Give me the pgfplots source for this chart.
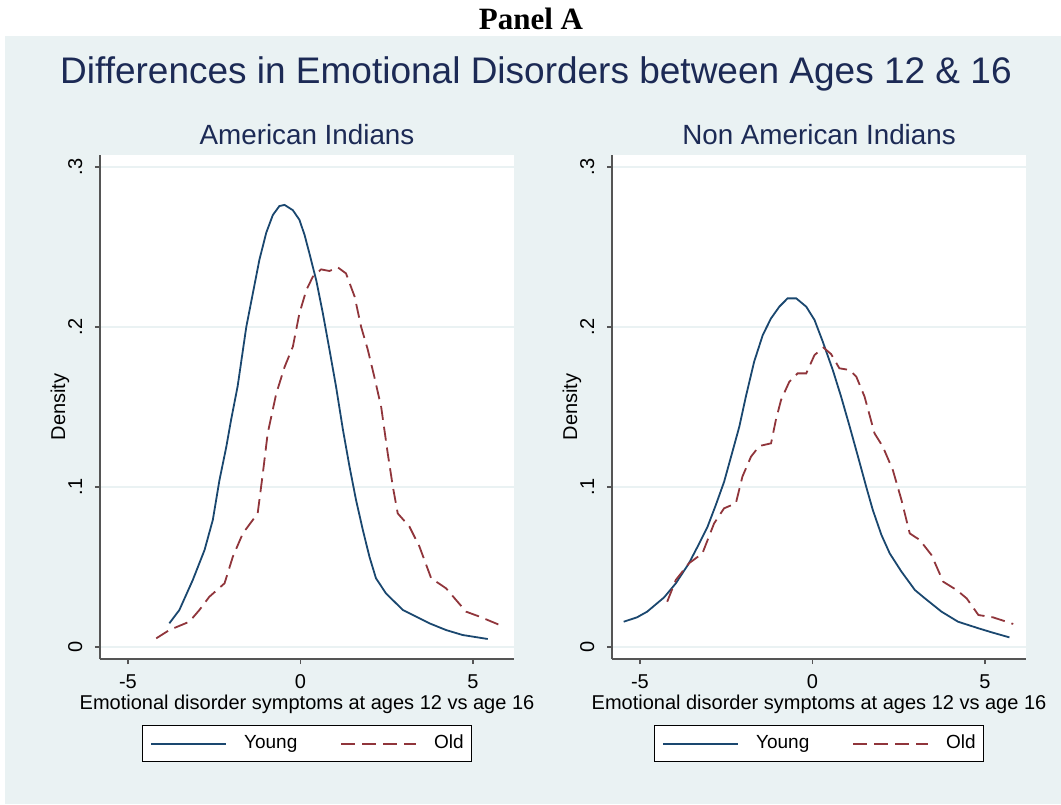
\documentclass[border=0pt]{standalone}
\usepackage{fontspec}
\setmainfont{Liberation Sans}
\newfontfamily\panelfont{Liberation Serif}
\usepackage{pgfplots}
\pgfplotsset{compat=1.18}

\definecolor{bgc}{RGB}{234,242,243}
\definecolor{stnavy}{RGB}{26,71,111}
\definecolor{stmaroon}{RGB}{144,53,59}
\definecolor{ttl}{RGB}{28,42,85}
\definecolor{axc}{RGB}{85,85,85}

% kernel density curves
\pgfplotstableread{
x y
-3.80 0.0148
-3.51 0.0231
-3.12 0.0419
-2.78 0.0606
-2.54 0.0794
-2.35 0.1040
-2.15 0.1250
-2.01 0.1420
-1.82 0.1630
-1.57 0.2000
-1.38 0.2210
-1.19 0.2420
-0.99 0.2590
-0.80 0.2700
-0.61 0.2756
-0.46 0.2763
-0.22 0.2730
-0.03 0.2670
0.12 0.2575
0.26 0.2460
0.46 0.2290
0.65 0.2085
0.84 0.1860
1.03 0.1630
1.23 0.1360
1.42 0.1130
1.61 0.0920
1.81 0.0730
2.00 0.0564
2.19 0.0429
2.48 0.0335
2.97 0.0231
3.74 0.0148
4.22 0.0106
4.70 0.0075
5.43 0.0050
}\aiyoung
\pgfplotstableread{
x y
-4.18 0.0054
-3.80 0.0106
-3.22 0.0158
-2.93 0.0231
-2.64 0.0314
-2.20 0.0398
-1.96 0.0564
-1.67 0.0710
-1.24 0.0835
-1.09 0.1085
-0.95 0.1335
-0.70 0.1585
-0.46 0.1750
-0.22 0.1877
-0.03 0.2085
0.17 0.2230
0.36 0.2315
0.60 0.2360
0.84 0.2350
1.08 0.2373
1.32 0.2335
1.57 0.2190
1.76 0.2000
1.95 0.1860
2.14 0.1690
2.34 0.1500
2.53 0.1210
2.68 0.1000
2.82 0.0835
3.16 0.0752
3.45 0.0627
3.79 0.0429
4.22 0.0367
4.51 0.0294
4.80 0.0221
5.19 0.0190
5.77 0.0138
}\aiold
\pgfplotstableread{
x y
-5.47 0.0158
-5.08 0.0186
-4.79 0.0221
-4.30 0.0310
-3.96 0.0398
-3.58 0.0523
-3.33 0.0627
-3.04 0.0752
-2.80 0.0888
-2.56 0.1033
-2.32 0.1220
-2.12 0.1377
-1.93 0.1565
-1.69 0.1783
-1.44 0.1950
-1.20 0.2054
-0.96 0.2127
-0.72 0.2179
-0.47 0.2179
-0.18 0.2127
0.06 0.2044
0.30 0.1908
0.59 0.1731
0.83 0.1565
1.08 0.1377
1.32 0.1190
1.56 0.1000
1.75 0.0856
2.00 0.0700
2.24 0.0585
2.58 0.0471
2.97 0.0356
3.26 0.0304
3.74 0.0221
4.22 0.0158
4.81 0.0117
5.19 0.0092
5.71 0.0060
}\nayoung
\pgfplotstableread{
x y
-4.21 0.0283
-3.96 0.0419
-3.58 0.0523
-3.19 0.0585
-2.85 0.0773
-2.56 0.0867
-2.22 0.0898
-2.03 0.1065
-1.78 0.1190
-1.54 0.1256
-1.20 0.1273
-1.06 0.1419
-0.91 0.1544
-0.67 0.1658
-0.43 0.1710
-0.18 0.1710
0.06 0.1825
0.32 0.1871
0.54 0.1831
0.78 0.1742
1.08 0.1731
1.27 0.1690
1.51 0.1565
1.80 0.1335
2.04 0.1252
2.33 0.1106
2.58 0.0919
2.82 0.0710
3.11 0.0669
3.45 0.0575
3.79 0.0408
4.18 0.0356
4.47 0.0304
4.81 0.0200
5.24 0.0185
5.82 0.0144
}\naold

\pgfplotsset{stata/.style={
  scale only axis, width=207pt, height=252pt,
  xmin=-5.81, xmax=6.19, ymin=-0.0075, ymax=0.3075,
  axis x line*=bottom, axis y line*=left,
  axis line style={-, draw=axc, line width=0.6pt},
  xtick={-5,0,5}, xticklabels={-5,0,5},
  ytick={0,0.1,0.2,0.3}, yticklabels={0,.1,.2,.3},
  tick align=outside, major tick length=2.5pt,
  tick style={draw=axc, line width=0.6pt},
  ymajorgrids, grid style={draw=bgc, line width=0.7pt},
  axis background/.style={fill=white},
  tick label style={font=\fontsize{10}{12}\selectfont, inner sep=0pt},
  xticklabel style={anchor=base, yshift=-12pt},
  yticklabel style={xshift=-6.5pt, rotate=90, anchor=base},
  title style={font=\fontsize{13.9}{16}\selectfont, text=ttl, anchor=base, at={(0.5,1)}, yshift=-1pt},
  xlabel={Emotional disorder symptoms at ages 12 vs age 16},
  ylabel={Density},
  label style={font=\fontsize{10}{12}\selectfont, inner sep=0pt},
  xlabel style={at={(axis description cs:0.5,0)}, anchor=base, yshift=-25pt},
  ylabel style={at={(axis description cs:-0.0966,0.5)}, anchor=center},
  legend columns=2,
  legend style={at={(0.5,-0.131)}, anchor=north, draw=black, fill=white,
    line width=0.5pt, font=\fontsize{9.5}{11}\selectfont,
    inner xsep=4pt, inner ysep=4.6pt,
    nodes={inner sep=0pt, text height=7pt, text depth=2pt},
    /tikz/every odd column/.append style={column sep=8.5pt},
    /tikz/every even column/.append style={column sep=21.5pt}},
  legend image code/.code={\draw[#1] (0pt,0pt) -- (37.5pt,0pt);},
  every axis plot/.append style={line width=0.9pt},
}}

\begin{document}
\begin{tikzpicture}
\useasboundingbox (0,0) rectangle (530.5pt,402pt);
\fill[white] (0,0) rectangle (530.5pt,402pt);
\fill[bgc] (2.5pt,0) rectangle (530.5pt,384pt);
\node[font=\panelfont\bfseries\fontsize{15.5}{18}\selectfont, anchor=base] at (265.5pt,387pt) {Panel A};
\node[font=\fontsize{18.5}{22}\selectfont, text=ttl, anchor=base] at (268pt,360.4pt) {Differences in Emotional Disorders between Ages 12 \& 16};

\begin{axis}[stata, at={(50pt,72.5pt)}, anchor=south west, title={American Indians}]
\addplot[stnavy, solid] table[x=x, y=y] {\aiyoung};
\addplot[stmaroon, dash pattern=on 7pt off 3.5pt] table[x=x, y=y] {\aiold};
\legend{Young, Old}
\end{axis}

\begin{axis}[stata, at={(306pt,72.5pt)}, anchor=south west, title={Non American Indians}]
\addplot[stnavy, solid] table[x=x, y=y] {\nayoung};
\addplot[stmaroon, dash pattern=on 7pt off 3.5pt] table[x=x, y=y] {\naold};
\legend{Young, Old}
\end{axis}
\end{tikzpicture}
\end{document}
